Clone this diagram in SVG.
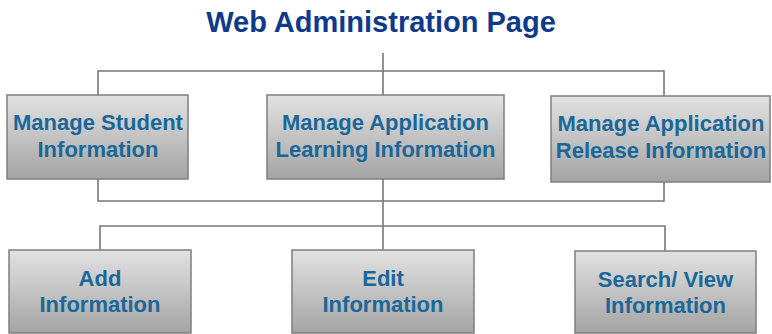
<svg xmlns="http://www.w3.org/2000/svg" width="772" height="334" viewBox="0 0 772 334">
  <defs>
    <linearGradient id="boxFill" x1="0" y1="0" x2="0" y2="1">
      <stop offset="0" stop-color="#e2e2e2"/>
      <stop offset="1" stop-color="#a4a4a4"/>
    </linearGradient>
  </defs>
  <style>
    .box { fill: url(#boxFill); stroke: #7f7f7f; stroke-width: 1.5; }
    .label { font-family: "Liberation Sans", Arial, sans-serif; font-weight: bold; font-size: 22px; fill: #1a6799; text-anchor: middle; }
    .title { font-family: "Liberation Sans", Arial, sans-serif; font-weight: bold; font-size: 29px; fill: #0e3a8c; text-anchor: middle; }
    .wire { fill: none; stroke: #777777; stroke-width: 1.6; }
  </style>

  <rect width="772" height="334" fill="#ffffff"/>

  <text class="title" x="381" y="32">Web Administration Page</text>

  <g id="connectors">
    <!-- title down to upper bus -->
    <path class="wire" d="M383 53 V95"/>
    <!-- upper bus feeding the three management boxes -->
    <path class="wire" d="M98 95 V71 H664 V96"/>
    <!-- lower bus joining the management boxes -->
    <path class="wire" d="M98 179 V201 H664 V182"/>
    <path class="wire" d="M383 179 V250"/>
    <!-- bus feeding the action boxes -->
    <path class="wire" d="M100 250 V226 H665 V251"/>
  </g>

  <g id="manage-student">
    <rect class="box" x="7" y="95" width="181" height="84"/>
    <text class="label" x="98" y="130">Manage Student</text>
    <text class="label" x="98" y="157">Information</text>
  </g>

  <g id="manage-learning">
    <rect class="box" x="267" y="95" width="237" height="84"/>
    <text class="label" x="385.5" y="130">Manage Application</text>
    <text class="label" x="385.5" y="157">Learning Information</text>
  </g>

  <g id="manage-release">
    <rect class="box" x="551" y="96" width="219" height="86"/>
    <text class="label" x="661" y="131">Manage Application</text>
    <text class="label" x="661" y="158">Release Information</text>
  </g>

  <g id="add-info">
    <rect class="box" x="9" y="250" width="182" height="83"/>
    <text class="label" x="100" y="286">Add</text>
    <text class="label" x="100" y="312">Information</text>
  </g>

  <g id="edit-info">
    <rect class="box" x="292" y="250" width="182" height="83"/>
    <text class="label" x="383" y="286">Edit</text>
    <text class="label" x="383" y="312">Information</text>
  </g>

  <g id="search-view-info">
    <rect class="box" x="575" y="251" width="181" height="82"/>
    <text class="label" x="665.5" y="287">Search/ View</text>
    <text class="label" x="665.5" y="313">Information</text>
  </g>
</svg>
